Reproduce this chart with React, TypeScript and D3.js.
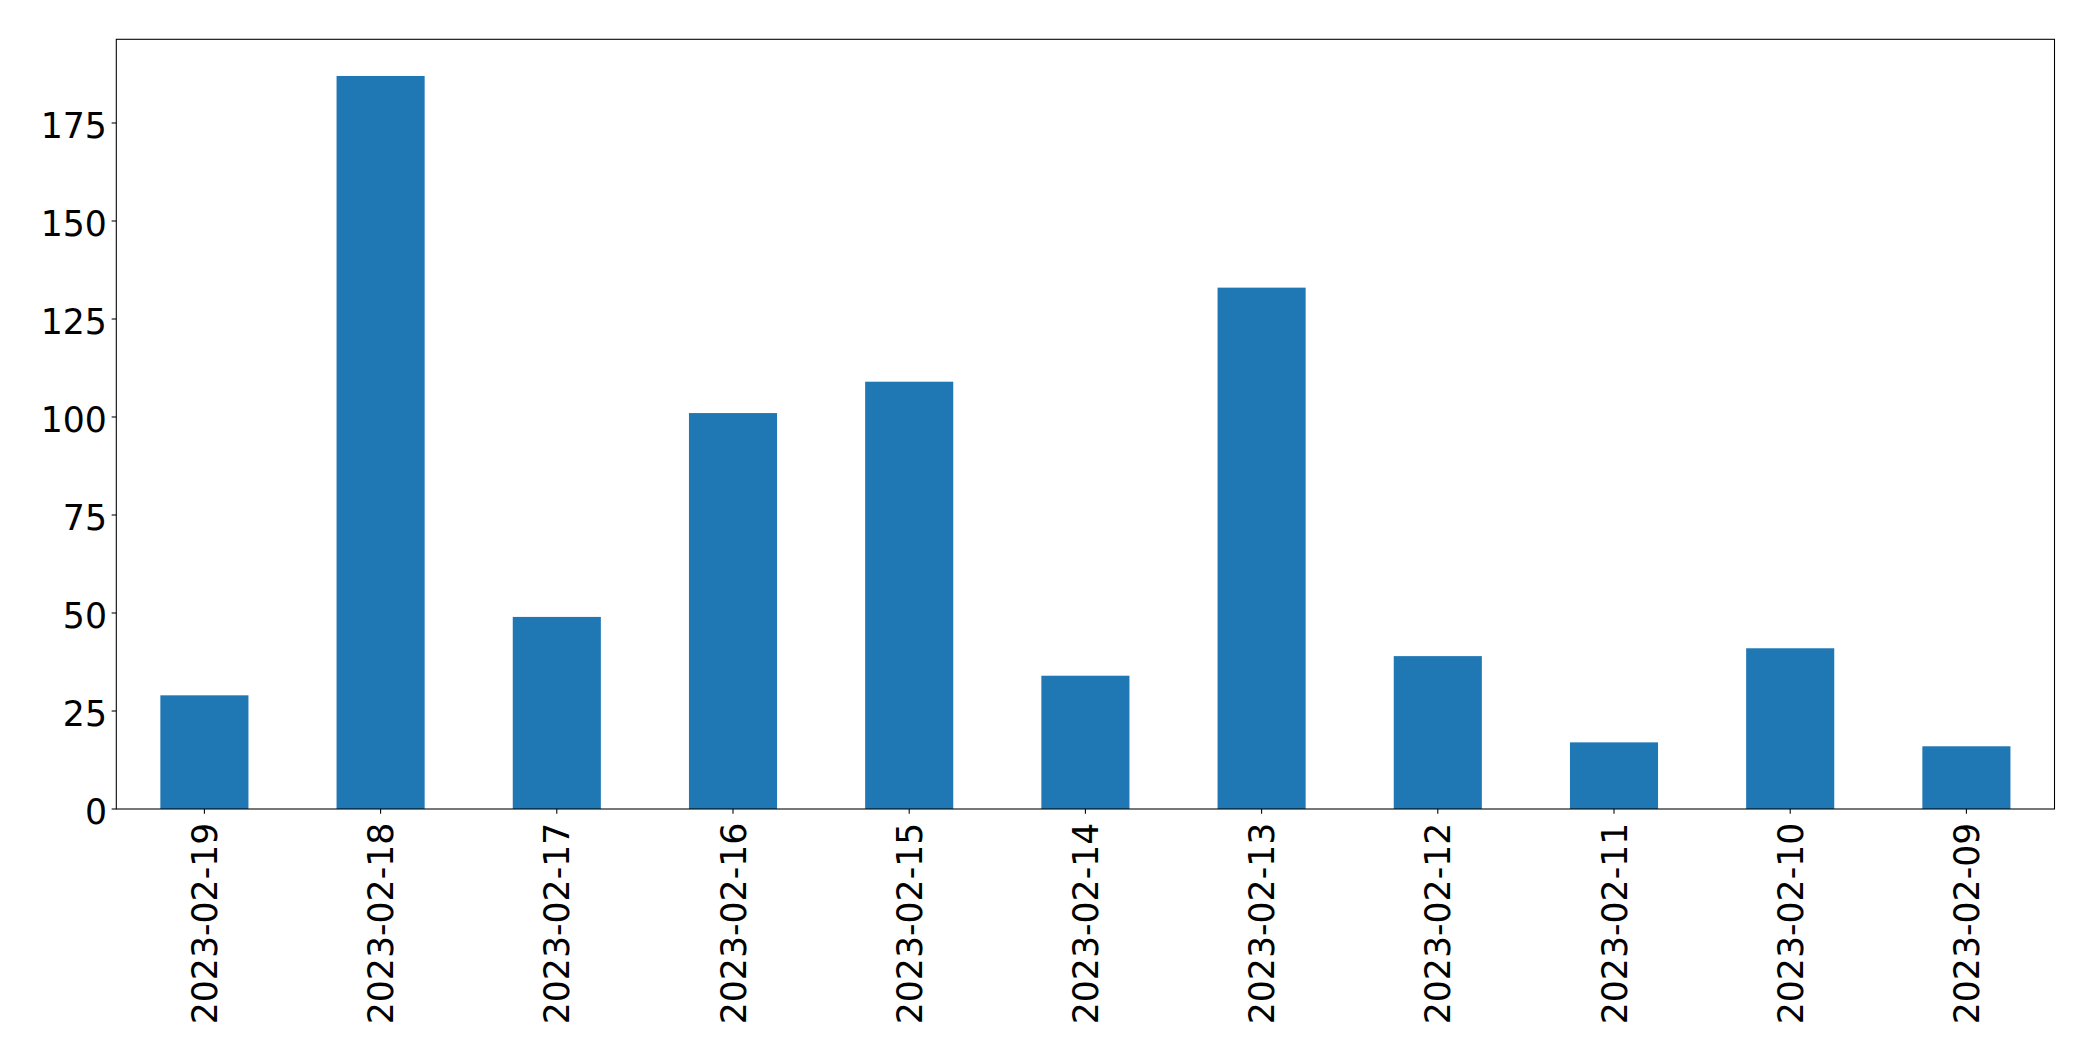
import React from "react";
import * as d3 from "d3";

const categories = [
  "2023-02-19", "2023-02-18", "2023-02-17", "2023-02-16", "2023-02-15", "2023-02-14",
  "2023-02-13", "2023-02-12", "2023-02-11", "2023-02-10", "2023-02-09",
];
const values = [29, 187, 49, 101, 109, 34, 133, 39, 17, 41, 16];
const yTicks = [0, 25, 50, 75, 100, 125, 150, 175];

const W = 2093;
const H = 1061;
const left = 116.3;
const right = 2054.5;
const top = 39.3;
const bottom = 809;
const FONT = "'DejaVu Sans', sans-serif";
const FS = 34.7;
const TICK = 4.67;

export default function App() {
  const x = d3
    .scaleBand<string>()
    .domain(categories)
    .range([left, right])
    .paddingInner(0.5)
    .paddingOuter(0.25);
  const yMax = (d3.max(values) as number) * 1.05;
  const y = d3.scaleLinear().domain([0, yMax]).range([bottom, top]);

  return (
    <svg
      width={W}
      height={H}
      style={{ position: "absolute", left: 0, top: 0, background: "#fff" }}
    >
      <rect x={0} y={0} width={W} height={H} fill="#fff" />
      {categories.map((c, i) => (
        <rect
          key={c}
          x={x(c)}
          y={y(values[i])}
          width={x.bandwidth()}
          height={y(0) - y(values[i])}
          fill="#1f77b4"
        />
      ))}
      <rect
        x={left}
        y={top}
        width={right - left}
        height={bottom - top}
        fill="none"
        stroke="#000"
        strokeWidth={1.07}
      />
      {yTicks.map((t) => (
        <g key={t}>
          <line x1={left - TICK} x2={left} y1={y(t)} y2={y(t)} stroke="#000" strokeWidth={1.07} />
          <text
            x={left - TICK - 4.67}
            y={y(t)}
            dy="0.43em"
            textAnchor="end"
            fontFamily={FONT}
            fontSize={FS}
            fill="#000"
          >
            {t}
          </text>
        </g>
      ))}
      {categories.map((c) => {
        const cx = (x(c) as number) + x.bandwidth() / 2;
        return (
          <g key={c}>
            <line x1={cx} x2={cx} y1={bottom} y2={bottom + TICK} stroke="#000" strokeWidth={1.07} />
            <text
              transform={`translate(${cx},${bottom + TICK + 9}) rotate(-90)`}
              dy="0.36em"
              textAnchor="end"
              fontFamily={FONT}
              fontSize={FS}
              fill="#000"
            >
              {c}
            </text>
          </g>
        );
      })}
    </svg>
  );
}
